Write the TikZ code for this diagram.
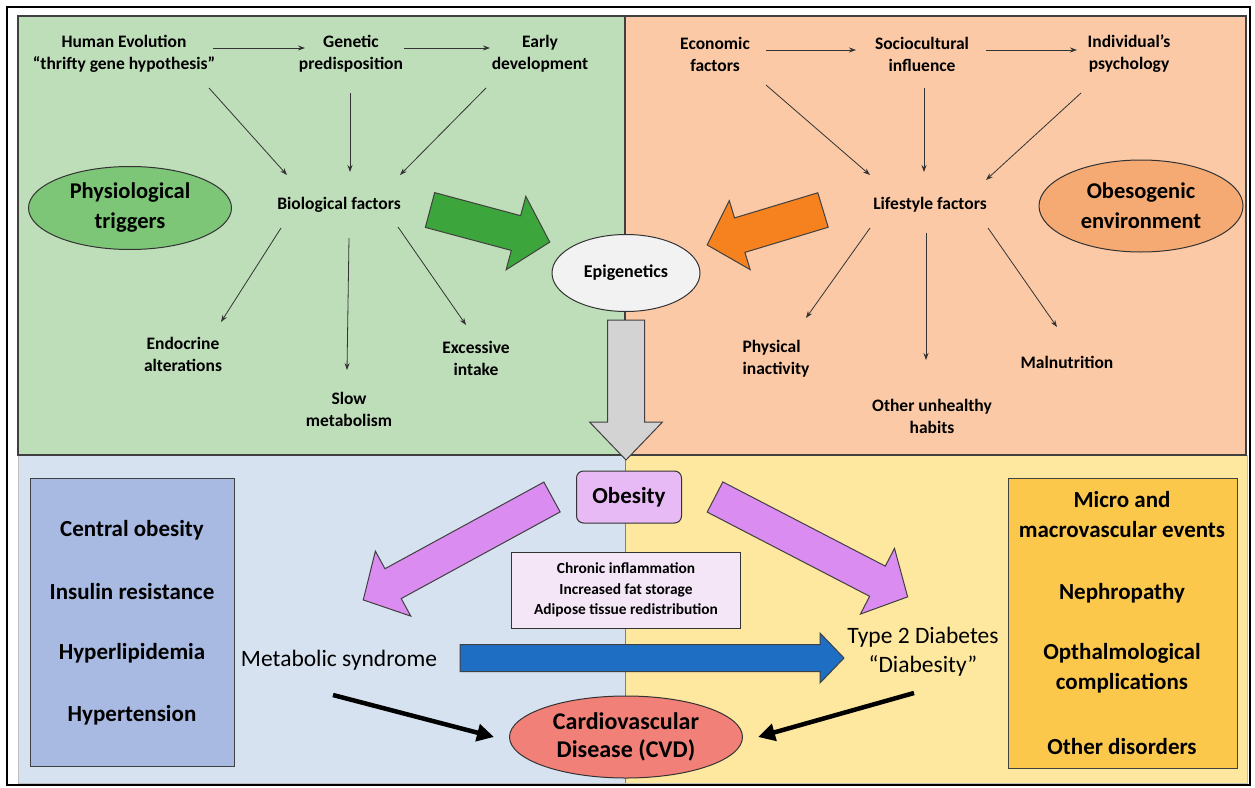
\documentclass[tikz,border=0pt]{standalone}
\usepackage{fontspec}
\setmainfont{Carlito}
\usetikzlibrary{calc,arrows.meta,shapes.geometric}
\tikzset {>={Stealth[length=7pt,width=5pt]}}
\definecolor{greenpanel}{HTML}{BEDEB9}
\definecolor{salmonpanel}{HTML}{FBC9A6}
\definecolor{bluepanel}{HTML}{D6E2F0}
\definecolor{yellowpanel}{HTML}{FEE8A0}
\definecolor{physell}{HTML}{7DC678}
\definecolor{obesell}{HTML}{F5AA73}
\definecolor{greenarr}{HTML}{3CA53C}
\definecolor{orangearr}{HTML}{F5821E}
\definecolor{grayarr}{HTML}{D3D3D3}
\definecolor{obesbox}{HTML}{E8BAF5}
\definecolor{purplearr}{HTML}{DA8CF0}
\definecolor{chronbox}{HTML}{F4E6F7}
\definecolor{bluearr}{HTML}{1E6EC3}
\definecolor{listbox}{HTML}{A8BAE2}
\definecolor{yelbox}{HTML}{FBC84B}
\definecolor{cvdell}{HTML}{F08078}
% block arrow: style, tail, angle, length, half shaft, half head, head length
\newcommand*{\blockarrow}[7]{%
  \begin{scope}[shift={#2},rotate=#3]
    \draw[#1] (0,-#5) -- ({#4-#7},-#5) -- ({#4-#7},-#6) -- (#4,0)
      -- ({#4-#7},#6) -- ({#4-#7},#5) -- (0,#5) -- cycle;
  \end{scope}}

\begin{document}
\begin{tikzpicture}[x=1pt,y=-1pt,
  lbl/.style={font=\bfseries\fontsize{17.5}{22}\selectfont,align=center,inner sep=1pt},
  biglbl/.style={font=\bfseries\fontsize{22.5}{30}\selectfont,align=center},
  listlbl/.style={font=\bfseries\fontsize{23}{30}\selectfont,align=center,inner sep=1pt},
  mainlbl/.style={font=\fontsize{23.5}{29}\selectfont,align=center,inner sep=1pt},
  ell/.style={ellipse,draw=black!80,line width=1pt,inner sep=0pt},
  thinarr/.style={->,line width=0.8pt,draw=black!80},
  fatarr/.style={-{Triangle[length=17pt,width=17pt]},line width=4.5pt},
  blk/.style={draw=black!75,line width=1pt,line join=miter}]
\useasboundingbox (0,0) rectangle (1255,787);
% panels
\fill[white] (0,0) rectangle (1255,787);
\draw[line width=1.2pt] (7,7) rectangle (1250,785);
\draw[fill=bluepanel,draw=black!25] (18,455) rectangle (625,783);
\draw[fill=yellowpanel,draw=black!25] (625,455) rectangle (1247,783);
\draw[fill=greenpanel,draw=black!75,line width=1.2pt] (18,16) rectangle (625,455);
\draw[fill=salmonpanel,draw=black!75,line width=1.2pt] (625,16) rectangle (1246,455);
\draw[black!50] (625,455) -- (625,783);

% physiological triggers
\node[lbl] (hum) at (124,54) {Human Evolution\\“thrifty gene hypothesis”};
\node[lbl] (gen) at (351,54) {Genetic\\predisposition};
\node[lbl] (early) at (540,54) {Early\\development};
\node[lbl] (bio) at (339,205) {Biological factors};
\node[lbl] (endo) at (183,354) {Endocrine\\alterations};
\node[lbl] (slow) at (349,409) {Slow\\metabolism};
\node[lbl] (exc) at (476,358) {Excessive\\intake};
\node[ell,fill=physell,minimum width=203pt,minimum height=83pt,biglbl] (phys trig) at (130,208) {Physiological\\triggers};
\draw[thinarr] ($(hum)+(89,-6)$) -- ($(gen)+(-46,-6)$);
\draw[thinarr] ($(gen)+(53,-6)$) -- ($(early)+(-50,-6)$);
\draw[thinarr] ($(hum)+(85,34)$) -- ($(bio)+(-52,-30)$);
\draw[thinarr] ($(gen)+(-1,39)$) -- ($(bio)+(11,-33)$);
\draw[thinarr] ($(early)+(-54,34)$) -- ($(bio)+(61,-30)$);
\draw[thinarr] ($(bio)+(-58,23)$) -- ($(endo)+(38,-32)$);
\draw[thinarr] ($(bio)+(10,33)$) -- ($(slow)+(-2,-39)$);
\draw[thinarr] ($(bio)+(59,22)$) -- ($(exc)+(-10,-33)$);

% obesogenic environment
\node[lbl] (eco) at (715,54) {Economic\\factors};
\node[lbl] (soc) at (922,54) {Sociocultural\\influence};
\node[lbl] (ind) at (1129,54) {Individual’s\\psychology};
\node[lbl] (life) at (930,205) {Lifestyle factors};
\node[lbl,align=left] (inact) at (776,359) {Physical\\inactivity};
\node[lbl] (oth) at (932,416) {Other unhealthy\\habits};
\node[lbl] (mal) at (1067,362) {Malnutrition};
\node[ell,fill=obesell,minimum width=204pt,minimum height=92pt,biglbl] (obes env) at (1141,206) {Obesogenic\\environment};
\draw[thinarr] ($(eco)+(51,-4)$) -- ($(soc)+(-66,-4)$);
\draw[thinarr] ($(soc)+(64,-4)$) -- ($(ind)+(-52,-4)$);
\draw[thinarr] ($(eco)+(51,31)$) -- ($(life)+(-60,-30)$);
\draw[thinarr] ($(soc)+(2,34)$) -- ($(life)+(-6,-33)$);
\draw[thinarr] ($(ind)+(-48,39)$) -- ($(life)+(56,-25)$);
\draw[thinarr] ($(life)+(-60,23)$) -- ($(inact)+(30,-41)$);
\draw[thinarr] ($(life)+(-4,28)$) -- ($(oth)+(-6,-56)$);
\draw[thinarr] ($(life)+(58,23)$) -- ($(mal)+(-10,-35)$);

% big arrows
\blockarrow{blk,fill=greenarr}{(430,210)}{-15}{124}{18}{38}{35}
\blockarrow{blk,fill=orangearr}{(823,210)}{196.8}{121}{18}{36}{34}
\blockarrow{blk,fill=grayarr}{(626,320)}{-90}{140}{18.5}{36.5}{38}
\blockarrow{blk,fill=purplearr}{(552,497)}{208.6}{215}{17}{37}{34}
\blockarrow{blk,fill=purplearr}{(715,497)}{-27.4}{217}{17}{37}{34}
\blockarrow{blk,fill=bluearr}{(460,658)}{0}{384}{13.5}{25}{24}
\node[ell,fill=black!5,minimum width=148pt,minimum height=77pt,font=\bfseries\fontsize{18}{20}\selectfont] (epi) at (626,273) {Epigenetics};

% consequences
\node[draw=black!80,line width=1pt,rounded corners=7pt,fill=obesbox,minimum width=105pt,minimum height=52pt,font=\bfseries\fontsize{23}{26}\selectfont] (obesity) at (629,497) {Obesity};
\node[draw=black!80,line width=1pt,fill=chronbox,minimum width=229pt,minimum height=76pt,align=center,font=\bfseries\fontsize{15.4}{20.5}\selectfont] (chron) at (626,590) {Chronic inflammation\\Increased fat storage\\Adipose tissue redistribution};
\draw[draw=black!75,line width=1pt,fill=listbox] (30,478) rectangle (234,766);
\node[listlbl] (central) at (132,530) {Central obesity};
\node[listlbl] (insulin) at (132,592) {Insulin resistance};
\node[listlbl] (hyperlip) at (132,653) {Hyperlipidemia};
\node[listlbl] (hypert) at (132,715) {Hypertension};
\draw[draw=black!75,line width=1pt,fill=yelbox] (1008,478) rectangle (1237,768);
\node[listlbl] (micro) at (1122,515) {Micro and\\macrovascular events};
\node[listlbl] (nephro) at (1122,593) {Nephropathy};
\node[listlbl] (optha) at (1122,668) {Opthalmological\\complications};
\node[listlbl] (other) at (1122,747) {Other disorders};
\node[mainlbl] (mets) at (339,660) {Metabolic syndrome};
\node[mainlbl] (t2d) at (923,652) {Type 2 Diabetes\\“Diabesity”};
\node[ell,fill=cvdell,minimum width=233pt,minimum height=82pt,font=\bfseries\fontsize{24}{28}\selectfont,align=center] (cvd) at (626,737) {Cardiovascular\\Disease (CVD)};
\draw[fatarr] ($(mets)+(-6,35)$) -- ($(cvd.west)+(-15,0)$);
\draw[fatarr] ($(t2d)+(-9,41)$) -- ($(cvd.east)+(15,0)$);
\end{tikzpicture}
\end{document}
